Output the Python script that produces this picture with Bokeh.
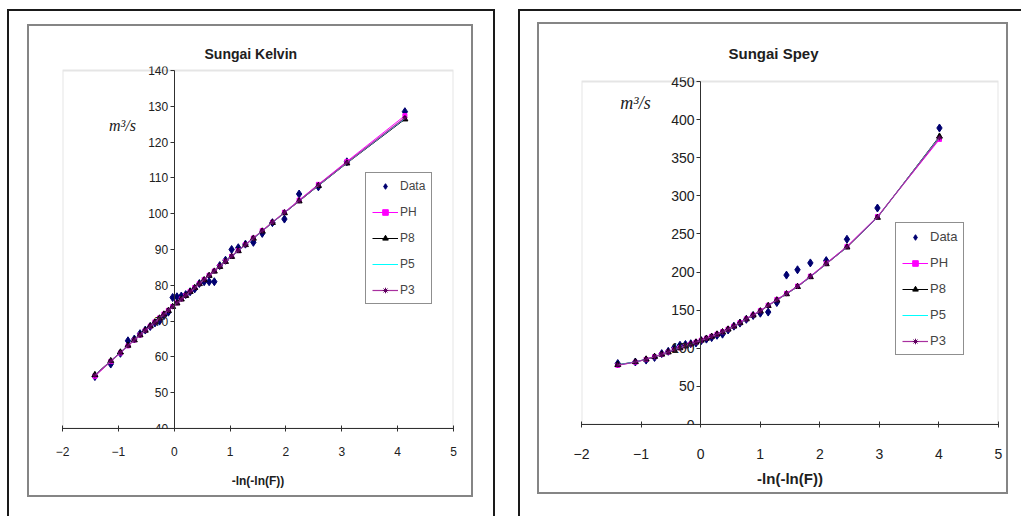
from bokeh.plotting import figure
from bokeh.layouts import row, column
from bokeh.models import Label, Legend, LegendItem, FixedTicker, Spacer, BoxAnnotation
from bokeh.embed import file_html
from bokeh.resources import INLINE

# ---------------- data: Sungai Kelvin ----------------
kelvin_x = [-1.420, -1.136, -0.963, -0.828, -0.714, -0.612, -0.518, -0.429, -0.345, -0.263,
            -0.184, -0.105, -0.028, 0.049, 0.127, 0.206, 0.285, 0.367, 0.450, 0.536,
            0.625, 0.718, 0.815, 0.918, 1.028, 1.147, 1.275, 1.417, 1.576, 1.758,
            1.973, 2.236, 2.581, 3.091, 4.130]
kelvin_data = [54.5, 58.0, 61.0, 64.5, 65.0, 66.5, 67.5, 68.5, 69.5, 70.0,
               71.5, 72.5, 76.6, 76.8, 77.0, 77.4, 78.2, 79.0, 80.5, 81.0,
               81.0, 81.0, 85.5, 87.0, 90.0, 90.5, 91.5, 92.0, 94.5, 97.5,
               98.5, 105.5, 107.5, 114.5, 128.5]
kelvin_ph = [54.6, 58.7, 61.1, 63.1, 64.7, 66.1, 67.4, 68.6, 69.8, 70.9, 72.0, 73.0, 74.1, 75.1,
             76.2, 77.2, 78.3, 79.4, 80.5, 81.6, 82.8, 84.0, 85.3, 86.7, 88.1, 89.7, 91.4, 93.2,
             95.3, 97.6, 100.4, 103.8, 108.2, 114.6, 127.4]
kelvin_p8 = [55.0, 58.9, 61.3, 63.2, 64.7, 66.1, 67.4, 68.6, 69.7, 70.8, 71.9, 72.9, 74.0, 75.0,
             76.1, 77.1, 78.2, 79.3, 80.4, 81.5, 82.7, 83.9, 85.2, 86.6, 88.0, 89.6, 91.3, 93.1,
             95.1, 97.5, 100.2, 103.5, 107.8, 114.1, 126.4]
kelvin_p5 = [54.9, 58.8, 61.2, 63.1, 64.7, 66.1, 67.4, 68.6, 69.7, 70.8, 71.9, 73.0, 74.0, 75.1,
             76.1, 77.2, 78.2, 79.3, 80.4, 81.6, 82.7, 84.0, 85.3, 86.6, 88.1, 89.6, 91.3, 93.1,
             95.2, 97.5, 100.3, 103.6, 107.9, 114.2, 126.6]
kelvin_p3 = [54.8, 58.8, 61.2, 63.1, 64.7, 66.1, 67.4, 68.6, 69.7, 70.8, 71.9, 73.0, 74.0, 75.1,
             76.1, 77.2, 78.2, 79.3, 80.4, 81.6, 82.8, 84.0, 85.3, 86.6, 88.1, 89.7, 91.3, 93.2,
             95.2, 97.6, 100.3, 103.6, 108.0, 114.3, 126.8]
kelvin_yticks = [40, 50, 60, 70, 80, 90, 100, 110, 120, 130, 140]

# ---------------- data: Sungai Spey ----------------
spey_x = [-1.391, -1.096, -0.915, -0.774, -0.653, -0.544, -0.443, -0.347, -0.255, -0.166,
          -0.078, 0.010, 0.097, 0.185, 0.275, 0.367, 0.461, 0.558, 0.660, 0.767,
          0.881, 1.002, 1.134, 1.279, 1.441, 1.626, 1.842, 2.108, 2.456, 2.968, 4.009]
spey_data = [80.0, 82.0, 84.5, 88.0, 93.0, 96.0, 101.0, 104.0, 105.0, 106.0,
             107.0, 110.0, 112.0, 114.0, 117.0, 118.5, 124.0, 129.0, 133.0, 138.0,
             143.0, 146.0, 147.5, 160.0, 196.0, 203.0, 212.0, 215.0, 243.0, 284.0, 389.0]
spey_ph = [77.5, 81.8, 85.4, 88.9, 92.0, 95.0, 98.0, 100.6, 103.1, 105.6, 108.1, 110.6, 113.1,
           115.7, 118.6, 121.7, 125.2, 129.2, 133.7, 138.7, 143.8, 149.4, 156.4, 164.0, 172.0,
           181.6, 194.6, 211.6, 233.6, 272.8, 374.0]
spey_p8 = [78.4, 82.2, 85.6, 89.0, 92.0, 95.0, 97.9, 100.4, 102.9, 105.4, 107.9, 110.4, 112.9,
           115.4, 118.4, 121.4, 124.9, 128.8, 133.3, 138.3, 143.3, 148.8, 155.8, 163.2, 171.2,
           180.7, 193.6, 210.6, 232.5, 271.5, 378.0]
spey_p5 = [78.2, 82.1, 85.5, 89.0, 92.0, 95.0, 98.0, 100.5, 103.0, 105.5, 108.0, 110.5, 113.0,
           115.5, 118.5, 121.5, 125.0, 129.0, 133.4, 138.4, 143.4, 149.0, 156.0, 163.4, 171.4,
           180.9, 193.8, 210.8, 232.8, 271.8, 377.0]
spey_p3 = [78.0, 82.0, 85.5, 89.0, 92.0, 95.0, 98.0, 100.5, 103.0, 105.5, 108.0, 110.5, 113.0,
           115.5, 118.5, 121.5, 125.0, 129.0, 133.5, 138.5, 143.5, 149.0, 156.0, 163.5, 171.5,
           181.0, 194.0, 211.0, 233.0, 272.0, 376.0]
spey_yticks = [0, 50, 100, 150, 200, 250, 300, 350, 400, 450]

x_ticks = [-2, -1, 0, 1, 2, 3, 4, 5]
series_names = ["Data", "PH", "P8", "P5", "P3"]
y_unit = "m\u00b3/s"
x_title = "-ln(-ln(F))"


def make_panel(title, xs, data, fits, yrange, yticks, g):
    ylo, yhi = yticks[0], yticks[-1]
    p = figure(width=g["w"], height=g["h"], x_range=(x_ticks[0], x_ticks[-1]), y_range=yrange,
               output_backend="svg", toolbar_location=None, title=title,
               min_border_left=g["bl"], min_border_right=g["br"],
               min_border_top=g["bt"], min_border_bottom=g["bb"],
               styles={"box-shadow": g["shadow"]})
    p.background_fill_color = "white"
    p.border_fill_color = "white"
    p.outline_line_color = None
    p.grid.visible = False

    # plot-area border (grey), exactly on the axis limits
    p.add_layout(BoxAnnotation(left=x_ticks[0], right=x_ticks[-1], bottom=ylo, top=yhi,
                               fill_alpha=0, line_color="#a8a8a8", line_width=2,
                               level="underlay"))

    p.title.align = "left"
    p.title.offset = g["toff"]
    p.title.standoff = g["tstand"]
    p.title.text_font = "Liberation Sans"
    p.title.text_font_style = "bold"
    p.title.text_font_size = g["t_fs"]
    p.title.text_color = "#202020"

    # axes
    p.xaxis.ticker = FixedTicker(ticks=x_ticks)
    p.yaxis.ticker = FixedTicker(ticks=yticks)
    p.yaxis.fixed_location = 0
    p.yaxis.bounds = (ylo, yhi)
    for ax in (p.xaxis, p.yaxis):
        ax.axis_line_color = "#303030"
        ax.major_tick_line_color = "#303030"
        ax.minor_tick_line_color = None
        ax.major_label_text_font = g["font"]
        ax.major_label_text_font_size = g["tick_fs"]
        ax.major_label_text_color = "#202020"
    p.xaxis.major_tick_in = 3
    p.xaxis.major_tick_out = 3
    p.xaxis.major_label_standoff = g["xstand"]
    p.yaxis.major_tick_in = 0
    p.yaxis.major_tick_out = 4
    p.yaxis.major_label_standoff = 2
    p.xaxis.axis_label = x_title
    p.xaxis.axis_label_text_font = "Liberation Sans"
    p.xaxis.axis_label_text_font_style = "bold"
    p.xaxis.axis_label_text_font_size = g["xt_fs"]
    p.xaxis.axis_label_standoff = g["xlstand"]
    p.xaxis.axis_label_text_color = "#202020"

    # series
    ph, p8, p5, p3 = fits
    r_data = p.scatter(xs, data, marker="diamond", size=8, color="#000070")
    l_ph = p.line(xs, ph, line_color="#ff00ff", line_width=1)
    m_ph = p.scatter(xs, ph, marker="square", size=4, color="#ff00ff")
    l_p8 = p.line(xs, p8, line_color="#000000", line_width=1)
    m_p8 = p.scatter(xs, p8, marker="triangle", size=6, color="#000000")
    l_p5 = p.line(xs, p5, line_color="#00ffff", line_width=1)
    l_p3 = p.line(xs, p3, line_color="#a8309f", line_width=1.2)
    m_p3 = p.scatter(xs, p3, marker="asterisk", size=5, line_color="#600060")

    legend = Legend(items=[
        LegendItem(label=series_names[0], renderers=[r_data]),
        LegendItem(label=series_names[1], renderers=[l_ph, m_ph]),
        LegendItem(label=series_names[2], renderers=[l_p8, m_p8]),
        LegendItem(label=series_names[3], renderers=[l_p5]),
        LegendItem(label=series_names[4], renderers=[l_p3, m_p3]),
    ], location=g["leg"])
    legend.border_line_color = "#202020"
    legend.border_line_width = 1
    legend.background_fill_color = "white"
    legend.background_fill_alpha = 1
    legend.label_text_font = g["font"]
    legend.label_text_font_size = g["leg_fs"]
    legend.glyph_width = 26
    legend.glyph_height = 14
    legend.label_height = 14
    legend.spacing = g["leg_sp"]
    legend.padding = 6
    legend.margin = 0
    legend.label_standoff = 2
    p.add_layout(legend)

    # unit label inside the plot area
    p.add_layout(Label(x=g["ux"], y=g["uy"], text=y_unit, text_align="center",
                       text_baseline="middle", text_font="Liberation Serif",
                       text_font_style="italic", text_font_size=g["u_fs"],
                       text_color="#202020"))
    return p


g1 = dict(w=442, h=469, bl=33, br=18, bt=40, bb=67, font="Liberation Sans",
          tick_fs="12px", xstand=15, xt_fs="12px", xlstand=15,
          leg=(303, 124), leg_fs="12px", leg_sp=12,
          toff=142, tstand=10, t_fs="14px", ux=-0.926, uy=124.6, u_fs="16px",
          shadow="0 0 0 2px #858585, 1px 6px 0 21px #ffffff, 1px 6px 0 23px #1a1a1a")
g2 = dict(w=467, h=468, bl=42, br=8, bt=53, bb=68,
          font="'Liberation Sans Narrow', 'Liberation Sans'",
          tick_fs="14px", xstand=21, xt_fs="15px", xlstand=8,
          leg=(314, 69), leg_fs="13px", leg_sp=11,
          toff=147, tstand=32, t_fs="15px", ux=-1.094, uy=422.4, u_fs="18px",
          shadow="0 0 0 2px #858585, 9px 15px 0 28px #ffffff, 9px 15px 0 30px #1a1a1a")

p1 = make_panel("Sungai Kelvin", kelvin_x, kelvin_data,
                (kelvin_ph, kelvin_p8, kelvin_p5, kelvin_p3), (40, 141.12), kelvin_yticks, g1)
p2 = make_panel("Sungai Spey", spey_x, spey_data,
                (spey_ph, spey_p8, spey_p5, spey_p3), (0, 455.25), spey_yticks, g2)

layout = row(Spacer(width=29), column(Spacer(height=26), p1),
             Spacer(width=68), column(Spacer(height=24), p2))
open("out.html", "w").write(file_html(layout, INLINE))
